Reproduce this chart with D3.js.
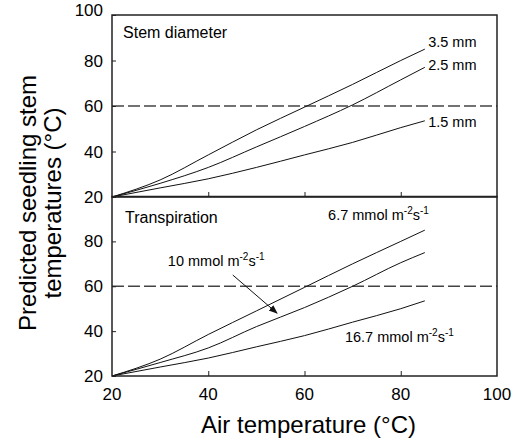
<!DOCTYPE html>
<html>
<head>
<meta charset="utf-8">
<script src="https://cdn.jsdelivr.net/npm/d3@7"></script>
<style>
  body { margin: 0; background: #fff; }
  svg { font-family: "Liberation Sans", Arial, sans-serif; }
</style>
</head>
<body>
<div id="chart"></div>
<script>
// air temperature steps used by the model curves
const airTemp = [20, 30, 40, 50, 60, 70, 80, 85];

// top panel: stem diameter
const stem35 = [20, 27.5, 38.5, 49.5, 59.5, 69.5, 80, 85];
const stem25 = [20, 26, 33, 42, 51, 60.5, 71.5, 77];
const stem15 = [20, 24, 28, 33, 38.5, 44, 50.5, 53.5];

// bottom panel: transpiration
const trans67 = [20, 27.5, 38.5, 49, 59.5, 70, 80, 85];
const trans10 = [20, 26, 32.5, 42, 50.5, 60, 70.5, 75];
const trans167 = [20, 24, 28, 33, 38, 44, 50, 53.5];

const xTicks = [20, 40, 60, 80, 100];
const yTicksTop = [20, 40, 60, 80, 100];
const yTicksBot = [20, 40, 60, 80];
const threshold = 60;

const W = 513, H = 444;
const svg = d3.select("#chart").append("svg")
    .attr("width", W).attr("height", H);

const x = d3.scaleLinear().domain([20, 100]).range([112, 497]);
const yTop = d3.scaleLinear().domain([20, 100]).range([197, 15]);
const yBot = d3.scaleLinear().domain([20, 100]).range([376, 196.5]);

function panel(y, yTicks, series) {
    const g = svg.append("g");

    // dashed threshold line
    g.append("line")
        .attr("x1", x(20)).attr("x2", x(100))
        .attr("y1", y(threshold)).attr("y2", y(threshold))
        .attr("stroke", "#444").attr("stroke-width", 1.4)
        .attr("stroke-dasharray", "12,4");

    const line = d3.line()
        .x((d, i) => x(airTemp[i]))
        .y(d => y(d))
        .curve(d3.curveMonotoneX);

    series.forEach(s => {
        g.append("path")
            .attr("d", line(s))
            .attr("fill", "none")
            .attr("stroke", "#111")
            .attr("stroke-width", 1);
    });

    // axes with inward ticks
    const yAxis = g.append("g")
        .attr("transform", `translate(${x(20)},0)`)
        .call(d3.axisRight(y).tickValues(yTicks).tickSize(4).tickFormat(""));
    yAxis.select(".domain").remove();

    g.selectAll(".ylab").data(yTicks).join("text")
        .attr("x", 103).attr("y", d => y(d) - (d === 100 ? 5 : 0))
        .attr("dy", "0.36em")
        .attr("text-anchor", "end")
        .attr("font-size", 17)
        .text(d => d);

    const xAxis = g.append("g")
        .attr("transform", `translate(0,${y(20)})`)
        .call(d3.axisTop(x).tickValues([40, 60, 80]).tickSize(5).tickFormat(""));
    xAxis.select(".domain").remove();

    g.selectAll(".tick line").attr("stroke", "#222");

    // frame
    g.append("rect")
        .attr("x", x(20)).attr("y", y(100))
        .attr("width", x(100) - x(20)).attr("height", y(20) - y(100))
        .attr("fill", "none").attr("stroke", "#222").attr("stroke-width", 1.5);
    return g;
}

const gTop = panel(yTop, yTicksTop, [stem35, stem25, stem15]);
const gBot = panel(yBot, yTicksBot, [trans67, trans10, trans167]);

// x tick labels
svg.selectAll(".xlab").data(xTicks).join("text")
    .attr("x", d => x(d)).attr("y", 400)
    .attr("text-anchor", "middle")
    .attr("font-size", 17)
    .text(d => d);

// panel titles
gTop.append("text").attr("x", x(22.3)).attr("y", yTop(89.9))
    .attr("font-size", 16).text("Stem diameter");
gBot.append("text").attr("x", x(22.7)).attr("y", yBot(88.2))
    .attr("font-size", 16).text("Transpiration");

// top panel labels
const topLabels = [
    {t: "3.5 mm", x: 85.7, y: 85.9},
    {t: "2.5 mm", x: 85.7, y: 75.8},
    {t: "1.5 mm", x: 85.7, y: 50.8}
];
gTop.selectAll(".lab").data(topLabels).join("text")
    .attr("x", d => x(d.x)).attr("y", d => yTop(d.y))
    .attr("font-size", 14.5)
    .text(d => d.t);

// bottom panel labels with superscripts
const botLabels = [
    {v: "6.7", x: 64.9, y: 89.5},
    {v: "10", x: 31.6, y: 69},
    {v: "16.7", x: 68.4, y: 35.1}
];
botLabels.forEach(d => {
    const t = gBot.append("text")
        .attr("x", x(d.x)).attr("y", yBot(d.y))
        .attr("font-size", 14.5);
    t.append("tspan").text(d.v + " mmol m");
    t.append("tspan").attr("dy", -6).attr("font-size", 10).text("-2");
    t.append("tspan").attr("dy", 6).text("s");
    t.append("tspan").attr("dy", -6).attr("font-size", 10).text("-1");
});

// arrow for 10 mmol label
svg.append("defs").append("marker")
    .attr("id", "arr").attr("viewBox", "0 0 10 10")
    .attr("refX", 9).attr("refY", 5)
    .attr("markerWidth", 9).attr("markerHeight", 9)
    .attr("orient", "auto")
    .append("path").attr("d", "M0,1 L10,5 L0,9 Z").attr("fill", "#111");
gBot.append("line")
    .attr("x1", x(45.1)).attr("y1", yBot(65))
    .attr("x2", x(54.3)).attr("y2", yBot(48))
    .attr("stroke", "#111").attr("stroke-width", 1)
    .attr("marker-end", "url(#arr)");

// axis titles
svg.append("text")
    .attr("x", (x(20) + x(100)) / 2 + 4).attr("y", 433)
    .attr("text-anchor", "middle").attr("font-size", 24)
    .text("Air temperature (°C)");

const yt = svg.append("text")
    .attr("transform", "translate(0,203) rotate(-90)")
    .attr("text-anchor", "middle").attr("font-size", 24);
yt.append("tspan").attr("x", 0).attr("y", 36).text("Predicted seedling stem");
yt.append("tspan").attr("x", 0).attr("y", 61).text("temperatures (°C)");
</script>
</body>
</html>
